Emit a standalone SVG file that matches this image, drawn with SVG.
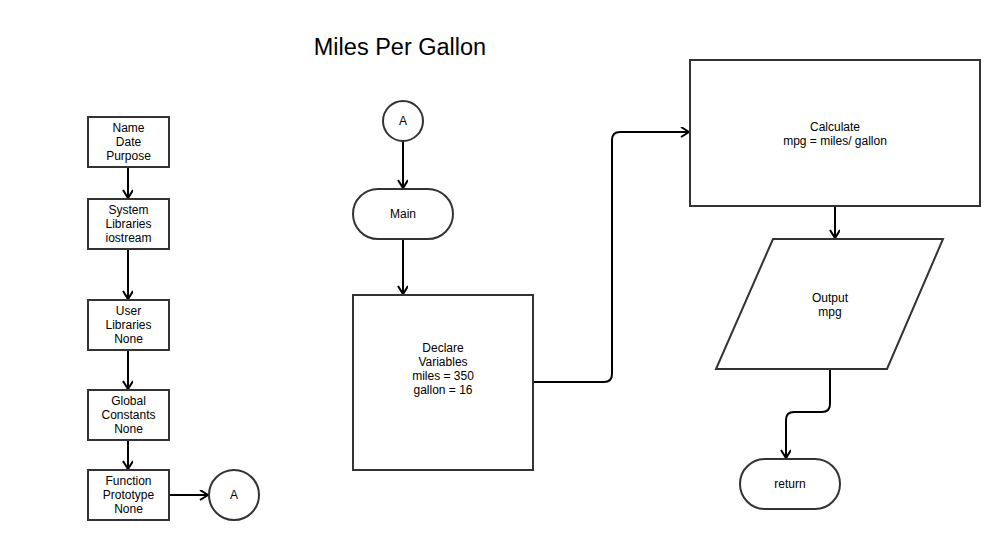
<svg xmlns="http://www.w3.org/2000/svg" width="1002" height="540" viewBox="0 0 1002 540">
<style>
.n{fill:#fff;stroke:#333;stroke-width:2}
.t{font-family:"Liberation Sans",Arial,sans-serif;font-size:12px;fill:#000;text-anchor:middle}
.c{fill:none;stroke:#000;stroke-width:2;marker-end:url(#ah)}
</style>
<defs>
<marker id="ah" markerWidth="12" markerHeight="12" refX="9" refY="5" orient="auto" markerUnits="userSpaceOnUse">
<path d="M1,0 L9,5 L1,10" fill="none" stroke="#000" stroke-width="2"/>
</marker>
</defs>
<rect width="1002" height="540" fill="#fff"/>
<text x="400" y="55" font-family="'Liberation Sans',Arial,sans-serif" font-size="23.5" text-anchor="middle">Miles Per Gallon</text>
<g id="connectors">
<path class="c" d="M128,167 V198"/>
<path class="c" d="M128,249 V299"/>
<path class="c" d="M128,350 V389"/>
<path class="c" d="M128,440 V469"/>
<path class="c" d="M169,495 H208"/>
<path class="c" d="M403,141 V188"/>
<path class="c" d="M403,239 V294"/>
<path class="c" d="M533,382 H604 Q612,382 612,374 V140 Q612,132 620,132 H689"/>
<path class="c" d="M835,206 V238"/>
<path class="c" d="M830,369 V404 Q830,412 822,412 H794 Q786,412 786,420 V458"/>
</g>
<g id="n1"><rect class="n" x="88" y="117" width="81" height="50"/>
<text class="t" x="128.5" y="132">Name</text><text class="t" x="128.5" y="146">Date</text><text class="t" x="128.5" y="160">Purpose</text></g>
<g id="n2"><rect class="n" x="88" y="199" width="81" height="50"/>
<text class="t" x="128.5" y="214">System</text><text class="t" x="128.5" y="228">Libraries</text><text class="t" x="128.5" y="242">iostream</text></g>
<g id="n3"><rect class="n" x="88" y="300" width="81" height="50"/>
<text class="t" x="128.5" y="315">User</text><text class="t" x="128.5" y="329">Libraries</text><text class="t" x="128.5" y="343">None</text></g>
<g id="n4"><rect class="n" x="88" y="390" width="81" height="50"/>
<text class="t" x="128.5" y="405">Global</text><text class="t" x="128.5" y="419">Constants</text><text class="t" x="128.5" y="433">None</text></g>
<g id="n5"><rect class="n" x="88" y="470" width="81" height="50"/>
<text class="t" x="128.5" y="485">Function</text><text class="t" x="128.5" y="499">Prototype</text><text class="t" x="128.5" y="513">None</text></g>
<g id="a1"><circle class="n" cx="234" cy="495" r="25"/><text class="t" x="234" y="499">A</text></g>
<g id="a2"><circle class="n" cx="403" cy="121" r="20"/><text class="t" x="403" y="125">A</text></g>
<g id="main"><rect class="n" x="353" y="189" width="100" height="50" rx="25"/><text class="t" x="403" y="218">Main</text></g>
<g id="declare"><rect class="n" x="353" y="295" width="180" height="175"/>
<text class="t" x="443" y="352">Declare</text><text class="t" x="443" y="366">Variables</text><text class="t" x="443" y="380">miles = 350</text><text class="t" x="443" y="394">gallon = 16</text></g>
<g id="calc"><rect class="n" x="690" y="60" width="290" height="146"/>
<text class="t" x="835" y="131">Calculate</text><text class="t" x="835" y="145">mpg = miles/ gallon</text></g>
<g id="output"><polygon class="n" points="773,239 943,239 887,369 716,369"/>
<text class="t" x="830" y="302">Output</text><text class="t" x="830" y="316">mpg</text></g>
<g id="ret"><rect class="n" x="740" y="459" width="100" height="50" rx="25"/><text class="t" x="790" y="488">return</text></g>
</svg>
